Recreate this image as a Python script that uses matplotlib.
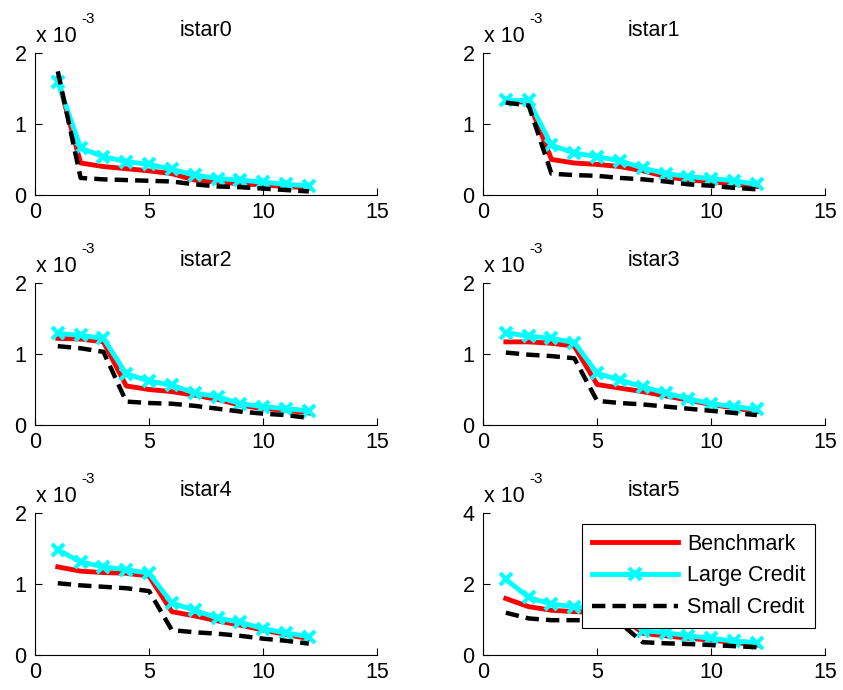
import matplotlib
matplotlib.use('Agg')
import matplotlib.pyplot as plt
import numpy as np

plt.rcParams['font.family'] = ['Liberation Sans', 'DejaVu Sans']

x = np.arange(1, 13)
titles = ['istar0', 'istar1', 'istar2', 'istar3', 'istar4', 'istar5']
labels = ['Benchmark', 'Large Credit', 'Small Credit']

# values in units of 1e-3
bench = [
    [1.64, 0.45, 0.40, 0.37, 0.34, 0.30, 0.21, 0.18, 0.16, 0.14, 0.12, 0.10],
    [1.31, 1.31, 0.50, 0.45, 0.43, 0.40, 0.34, 0.26, 0.21, 0.19, 0.15, 0.12],
    [1.22, 1.21, 1.17, 0.55, 0.50, 0.47, 0.42, 0.36, 0.28, 0.23, 0.21, 0.17],
    [1.17, 1.17, 1.15, 1.11, 0.57, 0.52, 0.47, 0.41, 0.35, 0.29, 0.24, 0.19],
    [1.24, 1.18, 1.16, 1.15, 1.11, 0.61, 0.55, 0.48, 0.42, 0.35, 0.29, 0.23],
    [1.59, 1.36, 1.26, 1.22, 1.20, 1.15, 0.61, 0.54, 0.47, 0.42, 0.35, 0.28],
]
large = [
    [1.59, 0.66, 0.54, 0.47, 0.43, 0.36, 0.28, 0.23, 0.21, 0.18, 0.15, 0.13],
    [1.33, 1.33, 0.70, 0.59, 0.54, 0.48, 0.38, 0.30, 0.26, 0.23, 0.20, 0.15],
    [1.29, 1.26, 1.22, 0.72, 0.62, 0.56, 0.45, 0.40, 0.30, 0.26, 0.23, 0.20],
    [1.30, 1.25, 1.22, 1.16, 0.73, 0.63, 0.54, 0.45, 0.37, 0.30, 0.26, 0.22],
    [1.48, 1.31, 1.24, 1.20, 1.15, 0.73, 0.63, 0.52, 0.46, 0.37, 0.31, 0.26],
    [2.13, 1.62, 1.43, 1.36, 1.32, 1.25, 0.68, 0.63, 0.54, 0.47, 0.39, 0.35],
]
small = [
    [1.74, 0.24, 0.22, 0.21, 0.20, 0.19, 0.15, 0.12, 0.11, 0.09, 0.07, 0.05],
    [1.30, 1.26, 0.30, 0.28, 0.27, 0.24, 0.22, 0.19, 0.15, 0.13, 0.10, 0.08],
    [1.11, 1.08, 1.03, 0.33, 0.31, 0.30, 0.27, 0.23, 0.19, 0.16, 0.14, 0.10],
    [1.02, 0.99, 0.97, 0.94, 0.34, 0.31, 0.29, 0.26, 0.23, 0.20, 0.17, 0.14],
    [1.01, 0.98, 0.96, 0.94, 0.90, 0.35, 0.32, 0.30, 0.27, 0.23, 0.20, 0.16],
    [1.19, 1.03, 0.98, 0.98, 0.97, 0.90, 0.36, 0.33, 0.31, 0.28, 0.25, 0.22],
]
ymax = [2, 2, 2, 2, 2, 4]

fig = plt.figure(figsize=(8.43, 6.9), dpi=100)
lefts = [0.0415, 0.573]
bottoms = [0.7174, 0.384, 0.0507]
w, h = 0.406, 0.206
fs = 15.5

for i in range(6):
    r, c = divmod(i, 2)
    ax = fig.add_axes([lefts[c], bottoms[r], w, h])
    ax.plot(x, bench[i], color='red', lw=3.5, label=labels[0])
    ax.plot(x, large[i], color='cyan', lw=3.5, marker='x', ms=8, mew=3,
            label=labels[1])
    ax.plot(x, small[i], color='black', lw=3.2, ls=(0, (3, 1.6)), label=labels[2])
    ax.set_xlim(0, 15)
    ax.set_ylim(0, ymax[i])
    ax.set_xticks([0, 5, 10, 15])
    ax.set_yticks(np.linspace(0, ymax[i], 3))
    ax.yaxis.set_major_formatter(plt.FormatStrFormatter('%g'))
    for s in ['top', 'right']:
        ax.spines[s].set_visible(False)
    for s in ['left', 'bottom']:
        ax.spines[s].set_linewidth(0.8)
    ax.tick_params(direction='in', length=5, width=0.8, labelsize=fs)
    ax.tick_params(axis='x', pad=5)
    ax.tick_params(axis='y', pad=6)
    ax.set_title(titles[i], fontsize=fs, pad=12)
    ax.annotate('x 10', xy=(0, 1), xycoords='axes fraction', xytext=(1, 11),
                textcoords='offset pixels', fontsize=fs, va='baseline', ha='left')
    ax.annotate('-3', xy=(0, 1), xycoords='axes fraction', xytext=(46, 30),
                textcoords='offset pixels', fontsize=11, va='baseline', ha='left')
    if i == 5:
        leg = ax.legend(loc='upper right', bbox_to_anchor=(0.971, 0.923),
                        borderaxespad=0, fontsize=fs, handlelength=4.0,
                        handletextpad=0.45, numpoints=1, fancybox=False,
                        framealpha=1, edgecolor='black', labelspacing=0.5,
                        borderpad=0.45)
        leg.get_frame().set_linewidth(0.8)

fig.savefig('out.png', dpi=100)
